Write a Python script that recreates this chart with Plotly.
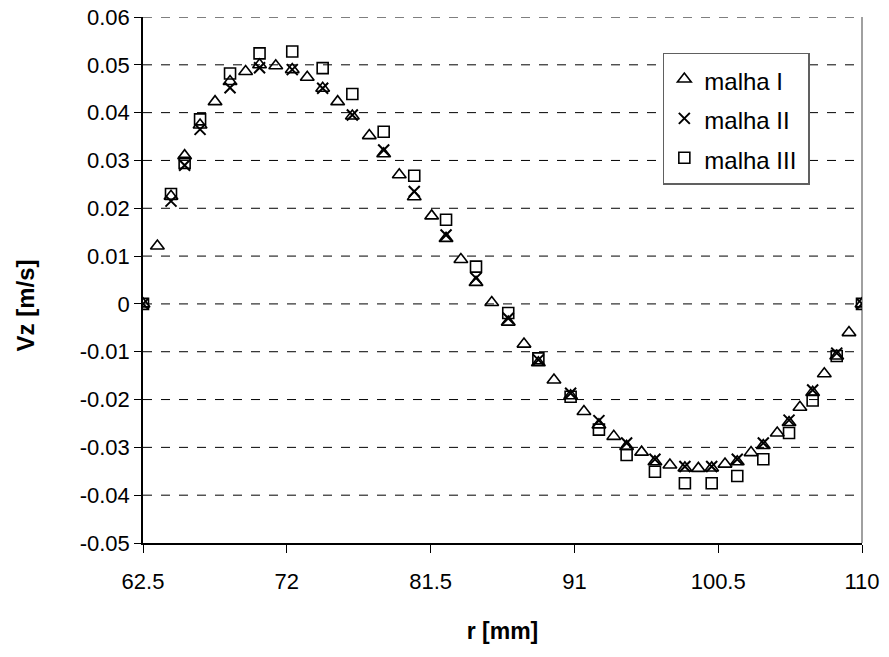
import plotly.graph_objects as go

r_I = [62.5, 63.45, 64.35, 65.25, 66.27, 67.26, 68.25, 69.28, 70.2, 71.27, 72.36, 73.35, 74.37,
       75.36, 76.33, 77.45, 78.4, 79.43, 80.42, 81.57, 82.52, 83.5, 84.5, 85.54, 86.63, 87.67,
       88.62, 89.65, 90.75, 91.63, 92.62, 93.6, 94.45, 95.44, 96.32, 97.31, 98.3, 99.19, 100.07,
       100.95, 101.76, 102.67, 103.48, 104.4, 105.18, 105.9, 106.74, 107.51, 108.33, 109.14, 110]
vz_I = [0, 0.0121, 0.0225, 0.031, 0.0374, 0.0423, 0.0465, 0.0486, 0.05, 0.0498, 0.049, 0.0474,
        0.0451, 0.0423, 0.0393, 0.0352, 0.0314, 0.027, 0.0224, 0.0184, 0.0137, 0.0093, 0.0045,
        0.0003, -0.0038, -0.0084, -0.0123, -0.0159, -0.0192, -0.0225, -0.0253, -0.0277, -0.0298,
        -0.031, -0.033, -0.0337, -0.0343, -0.0344, -0.0343, -0.0335, -0.033, -0.0311, -0.0296,
        -0.027, -0.0248, -0.0216, -0.0185, -0.0146, -0.0109, -0.006, 0]

r_II = [62.5, 64.35, 65.25, 66.27, 68.25, 70.2, 72.36, 74.37, 76.33, 78.4, 80.42, 82.52, 84.5,
        86.63, 88.62, 90.75, 92.62, 94.45, 96.32, 98.3, 100.07, 101.76, 103.48, 105.18, 106.74,
        108.33, 110]
vz_II = [0, 0.0215, 0.029, 0.0365, 0.0452, 0.0494, 0.049, 0.0451, 0.0395, 0.0322, 0.0235, 0.0144,
         0.0054, -0.003, -0.0117, -0.0187, -0.0244, -0.0291, -0.0325, -0.034, -0.034, -0.0325,
         -0.0291, -0.0243, -0.018, -0.0103, 0]

r_III = r_II
vz_III = [0, 0.023, 0.0295, 0.0386, 0.0482, 0.0524, 0.0528, 0.0493, 0.0439, 0.036, 0.0268, 0.0176,
          0.0078, -0.0019, -0.0114, -0.0194, -0.0263, -0.0316, -0.0351, -0.0375, -0.0375, -0.036,
          -0.0325, -0.027, -0.0202, -0.0109, 0]

series_names = ["malha I", "malha II", "malha III"]

x_ticks = [62.5, 72, 81.5, 91, 100.5, 110]
x_tick_labels = ["62.5", "72", "81.5", "91", "100.5", "110"]
y_ticks = [0.06, 0.05, 0.04, 0.03, 0.02, 0.01, 0, -0.01, -0.02, -0.03, -0.04, -0.05]
y_tick_labels = ["0.06", "0.05", "0.04", "0.03", "0.02", "0.01", "0", "-0.01", "-0.02", "-0.03", "-0.04", "-0.05"]

FONT = "Liberation Sans, Arial, sans-serif"


def leg(name):
    return "<span style='font-size:24px'>" + name + "&nbsp;</span>"


fig = go.Figure()
fig.add_trace(go.Scatter(
    x=r_I, y=vz_I, mode="markers", name=leg(series_names[0]),
    marker=dict(symbol="triangle-up-open", size=12, color="black", line=dict(width=1.6, color="black")),
))
fig.add_trace(go.Scatter(
    x=r_II, y=vz_II, mode="markers", name=leg(series_names[1]),
    marker=dict(symbol="x-thin-open", size=11, color="black", line=dict(width=2, color="black")),
))
fig.add_trace(go.Scatter(
    x=r_III, y=vz_III, mode="markers", name=leg(series_names[2]),
    marker=dict(symbol="square-open", size=11, color="black", line=dict(width=1.6, color="black")),
))

grid_vals = [v for v in y_ticks if v != -0.05]
for v in grid_vals:
    fig.add_shape(type="line", xref="paper", x0=0, x1=1, yref="y", y0=v, y1=v,
                  line=dict(color="black", width=1, dash="dash"), layer="below")
fig.add_shape(type="line", xref="paper", x0=1, x1=1, yref="paper", y0=0, y1=1,
              line=dict(color="#808080", width=1.5), layer="below")

fig.add_annotation(
    text="<b>Vz [m/s]</b>", textangle=-90, showarrow=False,
    xref="paper", x=-0.164, xanchor="center",
    yref="y", y=-0.0003, yanchor="middle",
    font=dict(family=FONT, size=24, color="black"),
)

fig.update_layout(
    width=889, height=657,
    margin=dict(l=143, r=27, t=17, b=114),
    paper_bgcolor="white", plot_bgcolor="white",
    font=dict(family=FONT, size=22, color="black"),
    showlegend=True,
    legend=dict(
        x=0.723, y=0.932, xanchor="left", yanchor="top",
        bordercolor="#606060", borderwidth=1.5, bgcolor="white",
        font=dict(family=FONT, size=28, color="black"),
    ),
    xaxis=dict(
        range=[62.5, 110], tickmode="array", tickvals=x_ticks, ticktext=x_tick_labels,
        showgrid=False, zeroline=False, showline=True, linecolor="black", linewidth=1.5,
        ticks="outside", ticklen=8, tickcolor="black", tickwidth=1, ticklabelstandoff=10,
        tickfont=dict(family=FONT, size=22), automargin=False,
        title=dict(text="<b>r [mm]</b>", font=dict(family=FONT, size=23), standoff=30),
    ),
    yaxis=dict(
        range=[-0.05, 0.06], tickmode="array", tickvals=y_ticks, ticktext=y_tick_labels,
        showgrid=False, zeroline=False, showline=True, linecolor="black", linewidth=1.5,
        ticks="outside", ticklen=7, tickcolor="black", tickwidth=1, ticklabeloverflow="allow",
        tickfont=dict(family=FONT, size=22), automargin=False,
    ),
)

fig.write_html("out.html", config={"displayModeBar": False},
               post_script="document.body.style.margin='0';")
